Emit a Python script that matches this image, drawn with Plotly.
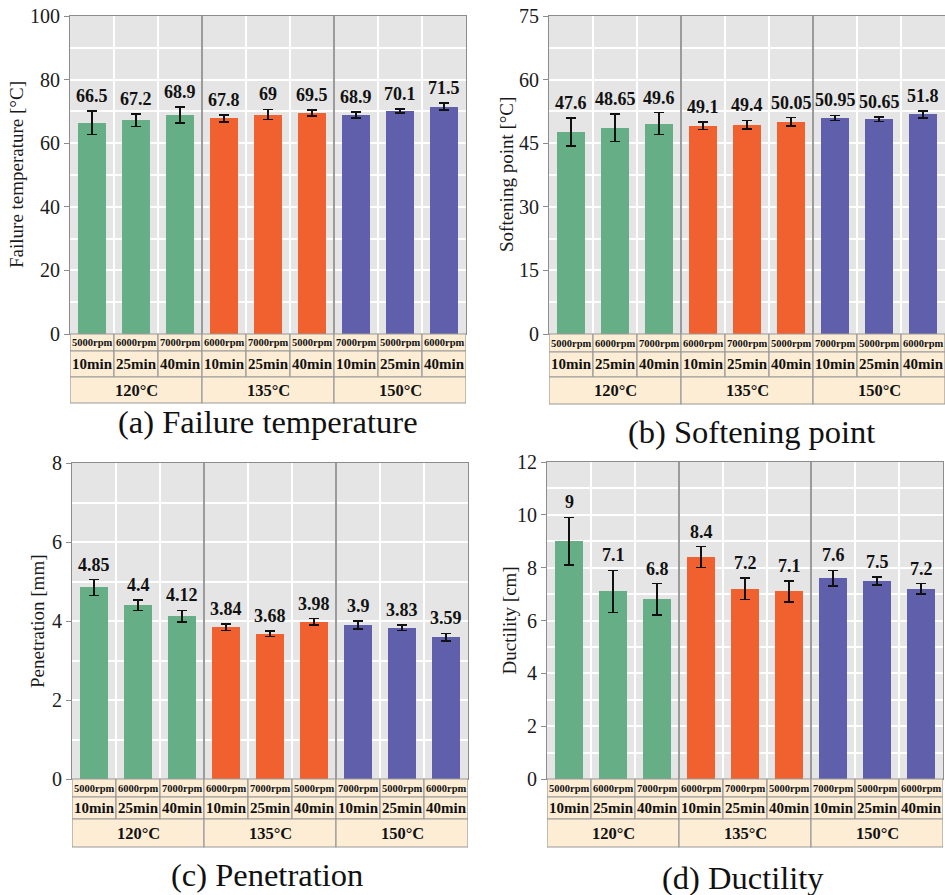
import plotly.graph_objects as go

# ---- data -------------------------------------------------------------
rpm_labels = ["5000rpm", "6000rpm", "7000rpm",
              "6000rpm", "7000rpm", "5000rpm",
              "7000rpm", "5000rpm", "6000rpm"]
time_labels = ["10min", "25min", "40min",
               "10min", "25min", "40min",
               "10min", "25min", "40min"]
temp_groups = ["120°C", "135°C", "150°C"]

failure_temp = [66.5, 67.2, 68.9, 67.8, 69, 69.5, 68.9, 70.1, 71.5]
failure_err = [3.7, 2.0, 2.5, 1.1, 1.6, 1.0, 0.9, 0.6, 1.1]

softening = [47.6, 48.65, 49.6, 49.1, 49.4, 50.05, 50.95, 50.65, 51.8]
softening_err = [3.3, 3.2, 2.6, 0.9, 1.0, 1.0, 0.6, 0.55, 0.8]

penetration = [4.85, 4.4, 4.12, 3.84, 3.68, 3.98, 3.9, 3.83, 3.59]
penetration_err = [0.2, 0.13, 0.15, 0.08, 0.07, 0.08, 0.1, 0.075, 0.1]

ductility = [9, 7.1, 6.8, 8.4, 7.2, 7.1, 7.6, 7.5, 7.2]
ductility_err = [0.9, 0.8, 0.6, 0.4, 0.4, 0.4, 0.3, 0.15, 0.2]

group_colors = ["#66ae85", "#f0612f", "#5f5fab"]

# ---- page geometry (pixels) -------------------------------------------
W, H = 945, 895
SERIF = "Liberation Serif"

panels = [
    dict(vals=failure_temp, errs=failure_err, ymax=100, dtick=20, minor=10,
         ytitle="Failure temperature [°C]", title="(a) Failure temperature",
         x0=70, x1=466, top=16, bottom=334, rows=[334, 351, 377, 403],
         tcx=268, tcy=422, ytx=17, fmt="{:g}"),
    dict(vals=softening, errs=softening_err, ymax=75, dtick=15, minor=7.5,
         ytitle="Softening point [°C]", title="(b) Softening point",
         x0=549, x1=945, top=16, bottom=334, rows=[334, 352, 377, 404],
         tcx=751, tcy=432, ytx=507, fmt="{:g}"),
    dict(vals=penetration, errs=penetration_err, ymax=8, dtick=2, minor=1,
         ytitle="Penetration [mm]", title="(c) Penetration",
         x0=72, x1=468, top=463, bottom=779, rows=[779, 797, 819, 847],
         tcx=267, tcy=875, ytx=37, fmt="{:g}"),
    dict(vals=ductility, errs=ductility_err, ymax=12, dtick=2, minor=1,
         ytitle="Ductility [cm]", title="(d) Ductility",
         x0=547, x1=943, top=462, bottom=779, rows=[779, 797, 819, 847],
         tcx=743, tcy=878, ytx=509, fmt="{:g}"),
]


def px(x):
    return x / W


def py(y):
    return 1 - y / H


fig = go.Figure()
shapes = []
annotations = []
layout_axes = {}

GRID = "#ffffff"
LINE = "#8c8c8c"
TABLE_FILL = "#fdedd5"
TABLE_LINE = "#9a9a9a"

for k, p in enumerate(panels, start=1):
    xa = "x" if k == 1 else f"x{k}"
    ya = "y" if k == 1 else f"y{k}"
    xkey = "xaxis" if k == 1 else f"xaxis{k}"
    ykey = "yaxis" if k == 1 else f"yaxis{k}"
    n = len(p["vals"])
    xs = list(range(n))
    colors = [group_colors[i // 3] for i in xs]

    fig.add_trace(go.Bar(
        x=xs, y=p["vals"], width=0.62,
        marker=dict(color=colors, line=dict(width=0)),
        error_y=dict(type="data", array=p["errs"], visible=True,
                     color="#111111", thickness=1.5, width=5),
        xaxis=xa, yaxis=ya, showlegend=False, hoverinfo="skip",
    ))

    layout_axes[xkey] = dict(
        domain=[px(p["x0"]), min(1.0, px(p["x1"]))],
        anchor=ya, range=[-0.5, n - 0.5], automargin=False,
        tickmode="linear", tick0=0.5, dtick=1,
        showticklabels=False, ticks="",
        showgrid=True, gridcolor=GRID, gridwidth=1.5,
        zeroline=False, showline=True, mirror=True,
        linecolor=LINE, linewidth=1.2,
    )
    layout_axes[ykey] = dict(
        domain=[py(p["bottom"]), py(p["top"])],
        anchor=xa, range=[0, p["ymax"]], automargin=False,
        tickmode="linear", tick0=0, dtick=p["dtick"],
        ticks="outside", ticklen=5, tickcolor=LINE, tickwidth=1.2,
        tickfont=dict(family=SERIF, size=20, color="#1a1a1a"),
        showgrid=True, gridcolor=GRID, gridwidth=1.5,
        minor=dict(dtick=p["minor"], tick0=0, showgrid=True,
                   gridcolor=GRID, gridwidth=1.5, ticks=""),
        zeroline=False, showline=True, mirror=True,
        linecolor=LINE, linewidth=1.2,
    )

    # group separators inside the plot area
    for b in (2.5, 5.5):
        shapes.append(dict(type="line", xref=xa, yref=f"{ya} domain",
                           x0=b, x1=b, y0=0, y1=1,
                           line=dict(color="#7a7a7a", width=1.5),
                           layer="above"))

    # value labels above the error bars
    for i, (v, e) in enumerate(zip(p["vals"], p["errs"])):
        annotations.append(dict(
            xref=xa, yref=ya, x=i, y=v + e, yanchor="bottom", yshift=3,
            text=p["fmt"].format(v), showarrow=False,
            font=dict(family=SERIF, size=18, color="#111111", weight="bold"),
        ))

    # parameter table under the axis
    r0, r1, r2, r3 = p["rows"]
    for i in xs:
        for (ya0, ya1, lab, fs) in ((r0, r1, rpm_labels[i], 10.5),
                                    (r1, r2, time_labels[i], 15)):
            shapes.append(dict(type="rect", xref=xa, yref="paper",
                               x0=i - 0.5, x1=i + 0.5,
                               y0=py(ya1), y1=py(ya0),
                               fillcolor=TABLE_FILL,
                               line=dict(color=TABLE_LINE, width=1.2),
                               layer="above"))
            annotations.append(dict(
                xref=xa, yref="paper", x=i, y=py((ya0 + ya1) / 2),
                xanchor="center", yanchor="middle", text=lab,
                showarrow=False,
                font=dict(family=SERIF, size=fs, color="#111111",
                          weight="bold"),
            ))
    for g, lab in enumerate(temp_groups):
        shapes.append(dict(type="rect", xref=xa, yref="paper",
                           x0=3 * g - 0.5, x1=3 * g + 2.5,
                           y0=py(r3), y1=py(r2),
                           fillcolor=TABLE_FILL,
                           line=dict(color=TABLE_LINE, width=1.2),
                           layer="above"))
        annotations.append(dict(
            xref=xa, yref="paper", x=3 * g + 1, y=py((r2 + r3) / 2),
            xanchor="center", yanchor="middle", text=lab, showarrow=False,
            font=dict(family=SERIF, size=16.5, color="#111111",
                      weight="bold"),
        ))

    # y-axis title
    annotations.append(dict(
        xref="paper", yref="paper", x=px(p["ytx"]),
        y=py((p["top"] + p["bottom"]) / 2),
        xanchor="center", yanchor="middle", textangle=-90,
        text=p["ytitle"], showarrow=False,
        font=dict(family=SERIF, size=19, color="#1a1a1a"),
    ))

    # panel caption
    annotations.append(dict(
        xref="paper", yref="paper", x=px(p["tcx"]), y=py(p["tcy"]),
        xanchor="center", yanchor="middle", text=p["title"],
        showarrow=False,
        font=dict(family=SERIF, size=32.5, color="#111111"),
    ))

fig.update_layout(
    template="none",
    width=W, height=H,
    margin=dict(l=0, r=0, t=0, b=0, autoexpand=False),
    paper_bgcolor="#ffffff",
    plot_bgcolor="#e5e5e5",
    font=dict(family=SERIF),
    shapes=shapes,
    annotations=annotations,
    bargap=0,
    showlegend=False,
    **layout_axes,
)

fig.write_html("out.html")
